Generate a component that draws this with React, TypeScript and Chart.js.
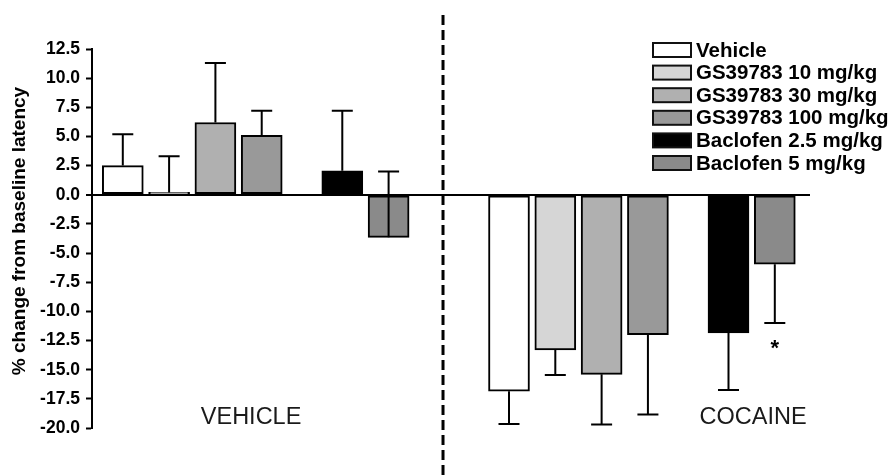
import React, { useEffect, useRef } from "react";
import { Chart, registerables } from "chart.js";

Chart.register(...registerables);

// ---------- data ----------
const groups = ["VEHICLE", "COCAINE"];
const treatments = [
  "Vehicle",
  "GS39783 10 mg/kg",
  "GS39783 30 mg/kg",
  "GS39783 100 mg/kg",
  "Baclofen 2.5 mg/kg",
  "Baclofen 5 mg/kg",
];
const vehicleMeans = [2.5, 0.2, 6.2, 5.1, 2.05, -3.65];
// error bars of the vehicle group are drawn upward from the bar end
const vehicleSem = [2.7, 3.1, 5.1, 2.1, 5.15, 5.65];
const cocaineMeans = [-16.85, -13.3, -15.4, -12.0, -11.85, -5.95];
// error bars of the cocaine group are drawn downward from the bar end
const cocaineSem = [-2.8, -2.15, -4.3, -6.85, -4.9, -5.05];
const cocaineMarks = ["", "", "", "", "", "*"];
const yTicks = [12.5, 10, 7.5, 5, 2.5, 0, -2.5, -5, -7.5, -10, -12.5, -15, -17.5, -20];

// ---------- style / layout ----------
const fills = ["#ffffff", "#d6d6d6", "#b0b0b0", "#999999", "#000000", "#8a8a8a"];
const FONT = "'Liberation Sans', Arial, Helvetica, sans-serif";
const slotPos = [0, 1, 2, 3, 4.74, 5.74];
const groupStart = [0, 8.34];
const dividerX = 6.915;
const groupLabelX = [2.77, 13.61];
const X_MIN = -0.665;
const X_MAX = 14.84;

const means = [vehicleMeans, cocaineMeans];
const sems = [vehicleSem, cocaineSem];
const marks = [["", "", "", "", "", ""], cocaineMarks];

const overlayPlugin = {
  id: "overlay",
  afterDatasetsDraw(chart: any) {
    const ctx = chart.ctx;
    const ys = chart.scales.y;
    ctx.save();
    ctx.strokeStyle = "#000";
    ctx.lineWidth = 2;
    chart.data.datasets.forEach((ds: any, di: number) => {
      const meta = chart.getDatasetMeta(di);
      meta.data.forEach((bar: any, gi: number) => {
        const m = means[gi][di];
        const e = sems[gi][di];
        const x = bar.x;
        const y0 = ys.getPixelForValue(m);
        const y1 = ys.getPixelForValue(m + e);
        ctx.beginPath();
        ctx.moveTo(x, y0);
        ctx.lineTo(x, y1);
        ctx.moveTo(x - 10.5, y1);
        ctx.lineTo(x + 10.5, y1);
        ctx.stroke();
        const mk = marks[gi][di];
        if (mk) {
          ctx.fillStyle = "#000";
          ctx.font = `bold 22px ${FONT}`;
          ctx.textAlign = "center";
          ctx.textBaseline = "alphabetic";
          ctx.fillText(mk, x, y1 + 32);
        }
      });
    });
    ctx.restore();
  },
  afterDraw(chart: any) {
    const ctx = chart.ctx;
    const xs = chart.scales.x;
    ctx.save();
    // dashed divider
    const dx = xs.getPixelForValue(dividerX);
    ctx.strokeStyle = "#000";
    ctx.lineWidth = 3;
    ctx.setLineDash([10, 5]);
    ctx.beginPath();
    ctx.moveTo(dx, 15);
    ctx.lineTo(dx, 476);
    ctx.stroke();
    ctx.setLineDash([]);

    // group labels
    ctx.fillStyle = "#1a1a1a";
    ctx.font = `23.5px ${FONT}`;
    ctx.textAlign = "center";
    ctx.textBaseline = "middle";
    groups.forEach((g, i) => {
      ctx.fillText(g, xs.getPixelForValue(groupLabelX[i]), 418);
    });

    // y axis title
    ctx.save();
    ctx.translate(20, 231);
    ctx.rotate(-Math.PI / 2);
    ctx.fillStyle = "#000";
    ctx.font = `bold 19px ${FONT}`;
    ctx.textAlign = "center";
    ctx.textBaseline = "middle";
    ctx.fillText("% change from baseline latency", 0, 0);
    ctx.restore();

    // legend
    const bx = 653;
    const bw = 38;
    const bh = 14;
    ctx.font = `bold 20.5px ${FONT}`;
    ctx.textAlign = "left";
    ctx.textBaseline = "middle";
    chart.data.datasets.forEach((ds: any, i: number) => {
      const cy = 50 + i * 22.6;
      ctx.fillStyle = ds.backgroundColor;
      ctx.fillRect(bx, cy - bh / 2, bw, bh);
      ctx.lineWidth = 2;
      ctx.strokeStyle = "#111";
      ctx.strokeRect(bx, cy - bh / 2, bw, bh);
      ctx.fillStyle = "#000";
      ctx.fillText(ds.label, bx + bw + 5, cy + 1);
    });
    ctx.restore();
  },
};

export default function App() {
  const ref = useRef<HTMLCanvasElement | null>(null);

  useEffect(() => {
    if (!ref.current) return;
    const datasets = treatments.map((t, ti) => ({
      label: t,
      data: groups.map((g, gi) => ({ x: groupStart[gi] + slotPos[ti], y: means[gi][ti] })),
      backgroundColor: fills[ti],
      borderColor: "#000",
      borderWidth: 2,
      borderSkipped: false,
      barThickness: 41,
      grouped: false,
    }));
    const chart = new Chart(ref.current, {
      type: "bar",
      data: { datasets } as any,
      options: {
        responsive: false,
        animation: false,
        devicePixelRatio: 1,
        layout: { padding: { left: 0, right: 81, top: 49, bottom: 48 } },
        plugins: {
          legend: { display: false },
          tooltip: { enabled: false },
        },
        scales: {
          x: {
            type: "linear",
            display: false,
            min: X_MIN,
            max: X_MAX,
            offset: false,
          },
          y: {
            type: "linear",
            min: -20,
            max: 12.5,
            afterBuildTicks: (scale: any) => {
              scale.ticks = yTicks.map((v) => ({ value: v }));
            },
            afterFit: (scale: any) => {
              scale.width = 92;
            },
            border: { display: true, color: "#000", width: 2 },
            grid: {
              drawOnChartArea: true,
              drawTicks: true,
              tickLength: 6,
              tickWidth: 2,
              tickColor: "#000",
              color: (c: any) => (c.tick && c.tick.value === 0 ? "#000" : "rgba(0,0,0,0)"),
              lineWidth: (c: any) => (c.tick && c.tick.value === 0 ? 2 : 1),
            },
            ticks: {
              padding: 6,
              color: "#000",
              font: { family: FONT, size: 17.5, weight: "bold" },
              callback: (v: any) => Number(v).toFixed(1),
            },
          },
        },
      } as any,
      plugins: [overlayPlugin],
    });
    return () => chart.destroy();
  }, []);

  return (
    <div style={{ position: "absolute", left: 0, top: 0, width: 891, height: 476, background: "#fff" }}>
      <canvas ref={ref} width={891} height={476} style={{ width: 891, height: 476, display: "block" }} />
    </div>
  );
}
